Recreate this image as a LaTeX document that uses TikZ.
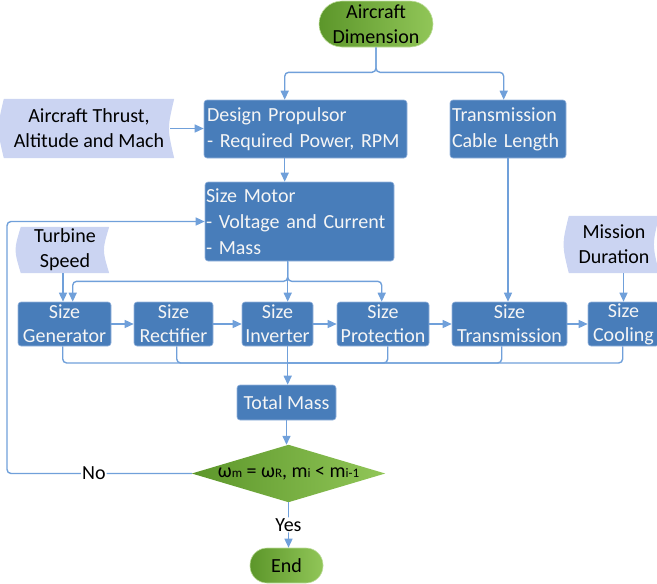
\documentclass[tikz,border=0pt]{standalone}
\usepackage{fontspec}
\setmainfont{Carlito}
\usetikzlibrary{arrows.meta,backgrounds,calc}
\definecolor{boxblue}{RGB}{72,125,186}
\definecolor{boxedge}{RGB}{150,180,220}
\definecolor{connblue}{RGB}{112,160,218}
\definecolor{inpfill}{RGB}{203,212,242}
\definecolor{gdark}{RGB}{92,150,42}
\definecolor{glight}{RGB}{145,198,88}
\definecolor{txtwhite}{RGB}{245,245,245}
\newcommand\inshape[1]{\fill[inpfill] (#1.north west) -- (#1.north east) .. controls ([xshift=-7pt]#1.east) .. (#1.south east) -- (#1.south west) .. controls ([xshift=-7pt]#1.west) .. (#1.north west) -- cycle;}
\newcommand\smalltxt[1]{{\fontsize{13}{13}\selectfont #1}}
\begin{document}
\begin{tikzpicture}[x=1pt,y=-1pt,
  base/.style={font=\fontsize{20}{26}\selectfont, inner sep=0pt},
  bluebox/.style={base, fill=boxblue, draw=boxedge, line width=0.6pt, rounded corners=3pt, text=txtwhite},
  rowbox/.style={bluebox, minimum height=44pt, align=center, font=\fontsize{20}{24}\selectfont},
  inp/.style={base, align=center, text=black, font=\fontsize{20}{25}\selectfont},
  term/.style={base, align=center, left color=gdark, right color=glight, draw=glight!60!white, line width=0.6pt},
  conn/.style={draw=connblue, line width=1.4pt, -{Triangle[length=9pt,width=8pt]}, rounded corners=4pt},
  wire/.style={draw=connblue, line width=1.4pt, rounded corners=4pt},
  lbl/.style={base, fill=white, inner sep=1pt}
]
\useasboundingbox (0,0) rectangle (657,584);

% nodes
\node[term, rounded corners=23pt, minimum width=114pt, minimum height=46pt] (ad) at (376,24) {Aircraft\\[-1pt]Dimension};
\node[inp, minimum width=170pt, minimum height=59pt] (th) at (89,128.5) {Aircraft Thrust,\\Altitude and Mach};
\node[bluebox, text width=197pt, inner xsep=3pt, minimum height=58pt, align=left] (dp) at (305.5,129) {Design Propulsor\\- Required Power, RPM};
\node[bluebox, text width=112pt, inner xsep=2pt, minimum height=58pt, align=left] (tc) at (508,129) {Transmission\\Cable Length};
\node[bluebox, text width=187pt, inner xsep=1pt, minimum height=79pt, align=left] (sm) at (299.5,221.5) {Size Motor\\- Voltage and Current\\- Mass};
\node[inp, minimum width=88pt, minimum height=46pt] (ts) at (65,250) {Turbine\\Speed};
\node[inp, minimum width=90pt, minimum height=57pt] (md) at (614,244.5) {Mission\\Duration};

\node[rowbox, minimum width=93pt] (sg) at (64.5,324) {Size\\Generator};
\node[rowbox, minimum width=79pt] (sr) at (173.5,324) {Size\\Rectifier};
\node[rowbox, minimum width=71pt] (si) at (277.5,324) {Size\\Inverter};
\node[rowbox, minimum width=92pt] (sp) at (383,324) {Size\\Protection};
\node[rowbox, minimum width=115pt] (st) at (509.5,324) {Size\\Transmission};
\node[rowbox, minimum width=71pt] (sc) at (623.5,324) {Size\\Cooling};

\node[bluebox, minimum width=99pt, minimum height=35pt] (tm) at (286.5,402.5) {Total Mass};
\node[base, minimum width=193pt, minimum height=57pt, text=black] (dm) at (288.5,473.5)
  {ω\smalltxt{m} = ω\smalltxt{R}, m\smalltxt{i} < m\smalltxt{i-1}};
\node[term, rounded corners=17pt, minimum width=73pt, minimum height=35pt] (fin) at (286.5,565.5) {End};

\coordinate (bus) at (288,363);
\coordinate (fb) at (7,473.5);

% backgrounds for custom shapes
\begin{scope}[on background layer]
  \inshape{th}
  \inshape{ts}
  \inshape{md}
  \shade[left color=gdark, right color=glight] (dm.north) -- (dm.east) -- (dm.south) -- (dm.west) -- cycle;
\end{scope}

% connectors
\draw[conn] (ad.south) -- ++(0,25) -| ([xshift=81pt]dp.north west);
\draw[conn] (ad.south) -- ++(0,25) -| ([xshift=54pt]tc.north west);
\draw[conn] ([xshift=-4pt]th.east) -- (th.east -| dp.west);
\draw[conn] ([xshift=81pt]dp.south west) -- ([xshift=81pt]dp.south west |- sm.north);

\draw[conn] ([xshift=83pt]sm.south west) -- ++(0,20) -| ([xshift=55pt]sg.north west);
\draw[conn] ([xshift=83pt]sm.south west) -- ([xshift=83pt]sm.south west |- si.north);
\draw[conn] ([xshift=83pt]sm.south west) -- ++(0,20) -| ([xshift=45pt]sp.north west);

\draw[conn] ([xshift=-2pt]ts.south) -- ([xshift=-2pt]ts.south |- sg.north);
\draw[conn] (tc.south) -- (tc.south |- st.north);
\draw[conn] (sc.north |- md.south) -- (sc.north);

\draw[conn] (sg.east) -- (sr.west);
\draw[conn] (sr.east) -- (si.west);
\draw[conn] (si.east) -- (sp.west);
\draw[conn] (sp.east) -- (st.west);
\draw[conn] (st.east) -- (sc.west);

\draw[wire] ([xshift=45pt]sg.south west) |- (bus);
\draw[wire] ([xshift=43pt]sr.south west) |- (bus);
\draw[wire] ([xshift=51pt]sp.south west) |- (bus);
\draw[wire] ([xshift=50pt]st.south west) |- (bus);
\draw[wire] ([xshift=35pt]sc.south west) |- (bus);
\draw[conn] ([xshift=46pt]si.south west) -- ([xshift=46pt]si.south west |- tm.north);

\draw[conn] (tm.south) -- (tm.south |- dm.north);
\draw[conn] (dm.west) -- node[lbl, pos=0.53] {No} (fb) |- (sm.west);
\draw[conn] (dm.south) -- node[lbl] {Yes} (dm.south |- fin.north);
\end{tikzpicture}
\end{document}
